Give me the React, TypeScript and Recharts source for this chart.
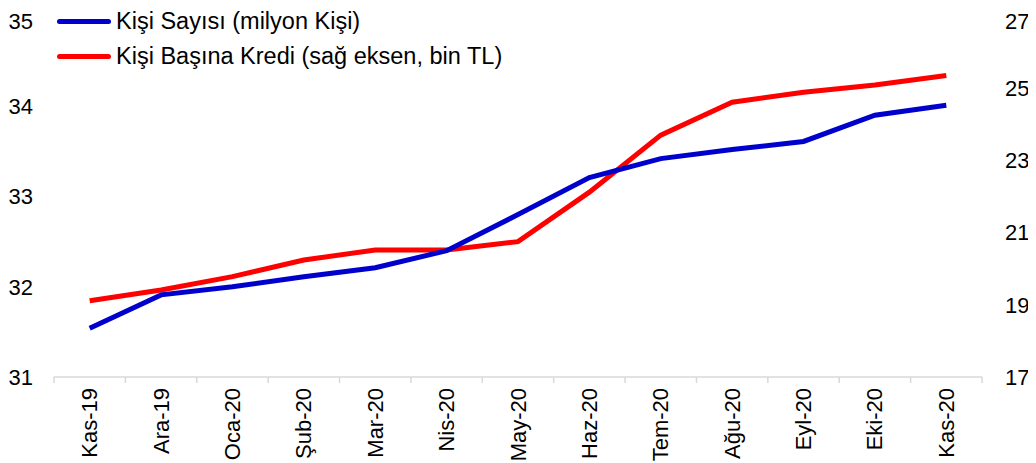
import { LineChart, Line, XAxis, YAxis } from "recharts";

const months = [
  "Kas-19", "Ara-19", "Oca-20", "Şub-20", "Mar-20", "Nis-20", "May-20",
  "Haz-20", "Tem-20", "Ağu-20", "Eyl-20", "Eki-20", "Kas-20",
];
// milyon kişi (sol eksen)
const kisiSayisi = [31.54, 31.91, 32.0, 32.11, 32.21, 32.4, 32.8, 33.21, 33.42, 33.52, 33.61, 33.9, 34.01];
// bin TL (sağ eksen)
const kisiBasinaKredi = [19.11, 19.41, 19.78, 20.24, 20.52, 20.52, 20.75, 22.12, 23.7, 24.61, 24.89, 25.09, 25.35];
const leftTicks = [31, 32, 33, 34, 35];
const rightTicks = [17, 19, 21, 23, 25, 27];

const data = months.map((m, i) => ({ m, kisi: kisiSayisi[i], kredi: kisiBasinaKredi[i] }));

const FONT = "'Liberation Sans', Arial, sans-serif";
const W = 1020;
const H = 455;
const LEFT_W = 46;
const RIGHT_W = 46;
const band = (W - LEFT_W - RIGHT_W) / months.length;

function MonthTick(props: any) {
  const { x, y, payload, index } = props;
  const half = band / 2;
  return (
    <g>
      <line x1={x - half} x2={x - half} y1={y} y2={y + 6} stroke="#d9d9d9" strokeWidth={1.5} />
      {index === months.length - 1 && (
        <line x1={x + half} x2={x + half} y1={y} y2={y + 6} stroke="#d9d9d9" strokeWidth={1.5} />
      )}
      <text
        transform={`translate(${x},${y + 11}) rotate(-90)`}
        textAnchor="end"
        dominantBaseline="central"
        fontSize={22}
        fontFamily={FONT}
        fill="#000"
      >
        {payload.value}
      </text>
    </g>
  );
}

const legendItems = [
  { label: "Kişi Sayısı (milyon Kişi)", color: "#0000cc" },
  { label: "Kişi Başına Kredi (sağ eksen, bin TL)", color: "#ff0000" },
];

export default function App() {
  return (
    <div style={{ position: "relative", width: W, height: H }}>
      <LineChart
        width={W}
        height={H}
        data={data}
        margin={{ top: 8, right: 0, bottom: 0, left: 0 }}
        style={{ overflow: "visible" }}
      >
        <XAxis
          dataKey="m"
          interval={0}
          height={86}
          padding={{ left: band / 2, right: band / 2 }}
          tickSize={0}
          tickMargin={0}
          tickLine={false}
          axisLine={{ stroke: "#d9d9d9", strokeWidth: 1.5 }}
          tick={<MonthTick />}
        />
        <YAxis
          yAxisId="left"
          domain={[31, 35]}
          ticks={leftTicks}
          width={LEFT_W}
          axisLine={false}
          tickLine={false}
          tickSize={0}
          tickMargin={21}
          tick={{ fontSize: 22, fontFamily: FONT, fill: "#000" }}
        />
        <YAxis
          yAxisId="right"
          orientation="right"
          domain={[17, 27]}
          ticks={rightTicks}
          width={RIGHT_W}
          axisLine={false}
          tickLine={false}
          tickSize={0}
          tickMargin={23}
          tick={{ fontSize: 22, fontFamily: FONT, fill: "#000", textAnchor: "start" }}
        />
        <Line
          yAxisId="right"
          dataKey="kredi"
          stroke="#ff0000"
          strokeWidth={5}
          dot={false}
          isAnimationActive={false}
        />
        <Line
          yAxisId="left"
          dataKey="kisi"
          stroke="#0000cc"
          strokeWidth={5}
          dot={false}
          isAnimationActive={false}
        />
      </LineChart>
      <div style={{ position: "absolute", left: 49, top: -4, fontFamily: FONT, fontSize: 23.5 }}>
        {legendItems.map((it) => (
          <div key={it.label} style={{ display: "flex", alignItems: "center", height: 35 }}>
            <span style={{ width: 54, height: 5, borderRadius: 3, background: it.color, marginRight: 5 }} />
            <span>{it.label}</span>
          </div>
        ))}
      </div>
    </div>
  );
}
